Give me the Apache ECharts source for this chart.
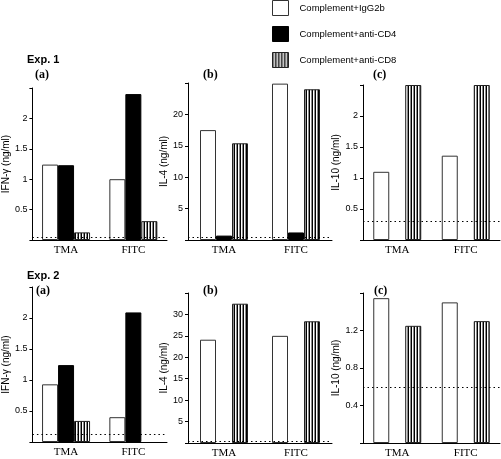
<!DOCTYPE html>
<html><head><meta charset="utf-8">
<script src="https://cdn.jsdelivr.net/npm/echarts@6/dist/echarts.min.js"></script>
<style>html,body{margin:0;padding:0;background:#fff}#c{width:501px;height:459px}</style>
</head><body><div id="c"></div>
<script>
// ---- data ----
const categories = ['TMA', 'FITC'];
const seriesNames = ['Complement+IgG2b', 'Complement+anti-CD4', 'Complement+anti-CD8'];
const yNames = ['IFN-\u03b3 (ng/ml)', 'IL-4 (ng/ml)', 'IL-10 (ng/ml)'];
const panelLetters = ['(a)', '(b)', '(c)'];
const expLabels = ['Exp. 1', 'Exp. 2'];

// Exp. 1
const exp1_IFNg_IgG2b = [1.24, 1.00];
const exp1_IFNg_CD4   = [1.23, 2.40];
const exp1_IFNg_CD8   = [0.125, 0.31];
const exp1_IFNg_limit = 0.05;

const exp1_IL4_IgG2b = [17.5, 24.9];
const exp1_IL4_CD4   = [0.7, 1.2];
const exp1_IL4_CD8   = [15.4, 24.0];
const exp1_IL4_limit = 0.4;

const exp1_IL10_IgG2b = [1.10, 1.36];
const exp1_IL10_CD4   = [null, null];
const exp1_IL10_CD8   = [2.5, 2.5];
const exp1_IL10_limit = 0.31;

// Exp. 2
const exp2_IFNg_IgG2b = [0.93, 0.40];
const exp2_IFNg_CD4   = [1.24, 2.09];
const exp2_IFNg_CD8   = [0.34, null];
const exp2_IFNg_limit = 0.13;

const exp2_IL4_IgG2b = [24.1, 25.0];
const exp2_IL4_CD4   = [null, null];
const exp2_IL4_CD8   = [32.5, 28.4];
const exp2_IL4_limit = 0.5;

const exp2_IL10_IgG2b = [1.545, 1.50];
const exp2_IL10_CD4   = [null, null];
const exp2_IL10_CD8   = [1.25, 1.30];
const exp2_IL10_limit = 0.60;

// axis ranges
const yMax = [2.5, 25, 2.5, 2.5, 35, 1.6];
const yInterval = [0.5, 5, 0.5, 0.5, 5, 0.4];

const panels = [
  [exp1_IFNg_IgG2b, exp1_IFNg_CD4, exp1_IFNg_CD8, exp1_IFNg_limit],
  [exp1_IL4_IgG2b, exp1_IL4_CD4, exp1_IL4_CD8, exp1_IL4_limit],
  [exp1_IL10_IgG2b, exp1_IL10_CD4, exp1_IL10_CD8, exp1_IL10_limit],
  [exp2_IFNg_IgG2b, exp2_IFNg_CD4, exp2_IFNg_CD8, exp2_IFNg_limit],
  [exp2_IL4_IgG2b, exp2_IL4_CD4, exp2_IL4_CD8, exp2_IL4_limit],
  [exp2_IL10_IgG2b, exp2_IL10_CD4, exp2_IL10_CD8, exp2_IL10_limit]
];

// ---- layout ----
const grids = [
  {left: 27, top: 88, width: 140, height: 152},
  {left: 188, top: 83, width: 144, height: 157},
  {left: 363, top: 85, width: 137, height: 155},
  {left: 26, top: 287, width: 141, height: 155},
  {left: 188, top: 293, width: 144, height: 150},
  {left: 363, top: 293, width: 137, height: 150}
];
const nameGaps = [15, 16, 20, 15, 16, 20];

// stripe pattern
const pc = document.createElement('canvas');
pc.width = 3; pc.height = 8;
const pctx = pc.getContext('2d');
pctx.fillStyle = '#000'; pctx.fillRect(0, 0, 1, 8);
pctx.fillStyle = '#fff'; pctx.fillRect(1, 0, 1, 8);
pctx.fillStyle = '#8a8a8a'; pctx.fillRect(2, 0, 1, 8);
const stripe = {image: pc, repeat: 'repeat'};

const styles = [
  {color: '#fff', borderColor: '#333', borderWidth: 1},
  {color: '#000', borderColor: '#000', borderWidth: 1},
  {color: stripe, borderColor: '#222', borderWidth: 1}
];

const sans = 'Liberation Sans';
const serif = 'Liberation Serif';

const xAxis = [], yAxis = [], series = [];
grids.forEach((g, i) => {
  xAxis.push({
    type: 'category', gridIndex: i, data: categories,
    axisLine: {lineStyle: {color: '#000', width: 1}},
    axisTick: {show: false},
    axisLabel: {color: '#000', fontFamily: serif, fontSize: 11, margin: 5}
  });
  const mx = yMax[i];
  yAxis.push({
    type: 'value', gridIndex: i, min: 0, max: mx, interval: yInterval[i],
    name: yNames[i % 3], nameLocation: 'middle', nameGap: nameGaps[i],
    nameTextStyle: {fontFamily: sans, fontSize: 10, color: '#000'},
    splitLine: {show: false},
    axisLine: {show: true, lineStyle: {color: '#000', width: 1}},
    axisTick: {show: true, length: 3, lineStyle: {color: '#000'}},
    axisLabel: {
      color: '#000', fontFamily: sans, fontSize: 9, margin: 5,
      formatter: v => (Math.abs(v) < 1e-9 || Math.abs(v - mx) < 1e-9) ? '' : String(+v.toFixed(1))
    }
  });
  const p = panels[i];
  for (let s = 0; s < 3; s++) {
    series.push({
      type: 'bar', name: seriesNames[s], xAxisIndex: i, yAxisIndex: i,
      data: p[s], barWidth: 16, barGap: '0%', itemStyle: styles[s],
      legendIcon: 'rect',
      z: 2, emphasis: {disabled: true}, animation: false
    });
  }
  series.push({
    type: 'line', xAxisIndex: i, yAxisIndex: i, data: [], z: 5, silent: true,
    markLine: {
      silent: true, symbol: 'none', label: {show: false}, animation: false,
      lineStyle: {color: '#000', type: [1.5, 3], width: 1},
      data: [{yAxis: p[3]}]
    }
  });
});

const titleStyle = {fontFamily: sans, fontSize: 11, fontWeight: 'bold', color: '#000'};
const letterStyle = {fontFamily: serif, fontSize: 12, fontWeight: 'bold', color: '#000'};
const titles = [
  {text: expLabels[0], left: 27, top: 54, padding: 0, textStyle: titleStyle},
  {text: expLabels[1], left: 27, top: 270, padding: 0, textStyle: titleStyle},
  {text: panelLetters[0], left: 35, top: 69, padding: 0, textStyle: letterStyle},
  {text: panelLetters[1], left: 203, top: 69, padding: 0, textStyle: letterStyle},
  {text: panelLetters[2], left: 373, top: 69, padding: 0, textStyle: letterStyle},
  {text: panelLetters[0], left: 36, top: 285, padding: 0, textStyle: letterStyle},
  {text: panelLetters[1], left: 203, top: 285, padding: 0, textStyle: letterStyle},
  {text: panelLetters[2], left: 374, top: 285, padding: 0, textStyle: letterStyle}
];

const chart = echarts.init(document.getElementById('c'), null, {renderer: 'canvas'});
chart.setOption({
  animation: false,
  backgroundColor: '#fff',
  title: titles,
  legend: {
    data: seriesNames, icon: 'rect', orient: 'vertical', left: 272, top: 0, padding: 0,
    itemWidth: 16, itemHeight: 15, itemGap: 10, selectedMode: false,
    itemStyle: {borderWidth: 1},
    textStyle: {fontFamily: sans, fontSize: 9.5, color: '#000', padding: [0, 0, 0, 6]}
  },
  grid: grids.map(g => Object.assign({containLabel: false}, g)),
  xAxis, yAxis, series
});
</script></body></html>
